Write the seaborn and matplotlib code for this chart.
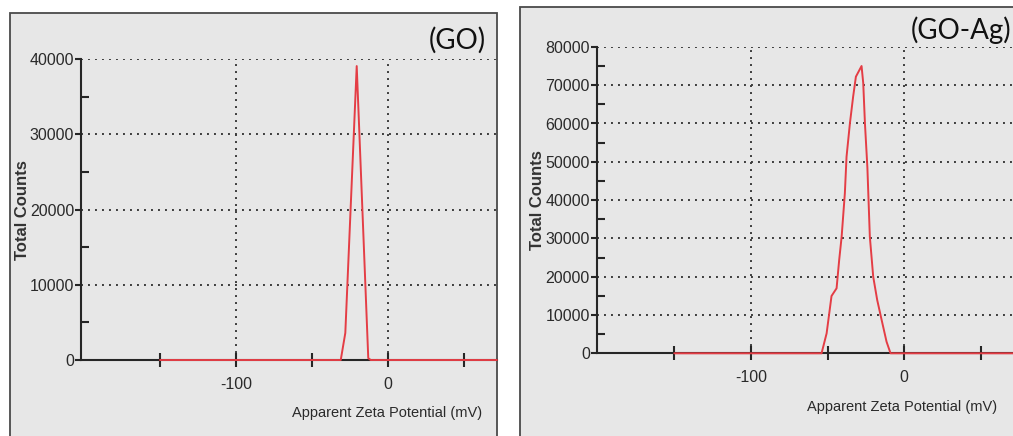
import matplotlib
matplotlib.use("Agg")
import matplotlib.pyplot as plt
from matplotlib.patches import Rectangle
from matplotlib.ticker import FixedLocator, MultipleLocator
import seaborn as sns
import pandas as pd

# ---- data ----
go_potential = [-150.0, -31.1, -28.1, -20.6, -13.0, -11.4, 71.7]
go_counts = [0, 0, 3600, 39100, 250, 0, 0]

goag_potential = [-150.0, -53.9, -50.6, -47.4, -44.1, -42.4, -40.8, -38.7, -37.6,
                  -35.4, -33.3, -31.5, -27.8, -26.7, -25.6, -24.0, -22.4, -20.2,
                  -17.6, -14.7, -11.5, -8.9, 71.0]
goag_counts = [0, 0, 5200, 14960, 16970, 24360, 30440, 41780, 51330,
               60050, 67000, 72220, 75010, 70500, 60050, 48500, 30440, 20000,
               13920, 8700, 3030, 0, 0]

panel_titles = ["(GO)", "(GO-Ag)"]
y_limits = [40000, 80000]
x_tick_labels = ["-100", "0"]
x_label = "Apparent Zeta Potential (mV)"
y_label = "Total Counts"

sns.set_theme(style="white")
plt.rcParams["font.family"] = ["Liberation Sans", "DejaVu Sans"]

W, H = 1013, 436
fig = plt.figure(figsize=(W / 100, H / 100), dpi=100)
fig.patch.set_facecolor("white")

PANEL_BG = "#e7e7e7"
FRAME = "#4a4a4a"
RED = "#e43d45"
AXC = "#262626"

def fx(px):
    return px / W

def fy(py):
    return 1 - py / H

# panel frames
fig.patches.append(Rectangle((fx(10), -0.05), fx(497 - 10), fy(13) + 0.05,
                             transform=fig.transFigure, facecolor=PANEL_BG,
                             edgecolor=FRAME, linewidth=1.3, zorder=-5))
fig.patches.append(Rectangle((fx(520), -0.05), 0.6, fy(7) + 0.05,
                             transform=fig.transFigure, facecolor=PANEL_BG,
                             edgecolor=FRAME, linewidth=1.3, zorder=-5))

panels = [
    dict(left=81, right=497, top=59.3, bottom=360, xlim=(-202, 71.7),
         x=go_potential, y=go_counts, ymax=y_limits[0], title=panel_titles[0],
         title_x=486, title_y=40, ylab_x=22.5, xlab_x=482, xlab_y=413),
    dict(left=596.7, right=1013, top=46.9, bottom=353.3, xlim=(-200.6, 71.0),
         x=goag_potential, y=goag_counts, ymax=y_limits[1], title=panel_titles[1],
         title_x=1011, title_y=30, ylab_x=537, xlab_x=997, xlab_y=407),
]

for p in panels:
    ax = fig.add_axes([fx(p["left"]), fy(p["bottom"]),
                       fx(p["right"] - p["left"]), (p["bottom"] - p["top"]) / H])
    ax.set_facecolor("none")
    df = pd.DataFrame({"potential": p["x"], "counts": p["y"]})
    sns.lineplot(data=df, x="potential", y="counts", ax=ax, color=RED,
                 linewidth=1.4, estimator=None, sort=False, zorder=6, clip_on=False)
    ax.set_xlim(*p["xlim"])
    ax.set_ylim(0, p["ymax"])

    for s in ["top", "right"]:
        ax.spines[s].set_visible(False)
    for s in ["left", "bottom"]:
        ax.spines[s].set_color(AXC)
        ax.spines[s].set_linewidth(1.5)

    ax.set_xticks([-100, 0])
    ax.set_xticklabels(x_tick_labels)
    ax.xaxis.set_minor_locator(FixedLocator([-150, -50, 50]))
    yt = list(range(0, p["ymax"] + 1, 10000))
    ax.set_yticks(yt)
    ax.set_yticklabels([str(v) for v in yt])
    ax.yaxis.set_minor_locator(MultipleLocator(5000))

    ax.tick_params(axis="x", which="both", bottom=True, direction="inout",
                   length=10, width=1.5, color=AXC, labelsize=11.5,
                   labelcolor="#2a2a2a", pad=7)
    ax.tick_params(axis="y", which="major", left=True, direction="out",
                   length=4, width=1.5, color=AXC, labelsize=11.5,
                   labelcolor="#2a2a2a", pad=1)
    ax.tick_params(axis="y", which="minor", left=True, direction="in",
                   length=6, width=1.5, color=AXC)

    ax.grid(True, which="major", color="#3c3c3c", linestyle=(0, (1, 2.6)),
            linewidth=1.4)
    ax.grid(False, which="minor")
    ax.set_axisbelow(True)
    ax.set_xlabel("")
    ax.set_ylabel("")

    fig.text(fx(p["ylab_x"]), fy((p["top"] + p["bottom"]) / 2), y_label,
             rotation=90, ha="center", va="center", fontsize=12,
             fontweight="bold", color="#333333")
    fig.text(fx(p["xlab_x"]), fy(p["xlab_y"]), x_label, ha="right", va="center",
             fontsize=10.5, color="#2a2a2a")
    fig.text(fx(p["title_x"]), fy(p["title_y"]), p["title"], ha="right",
             va="center", fontsize=20, color="#111111",
             family=["Lato", "DejaVu Sans"])

fig.savefig("out.png", dpi=100)
